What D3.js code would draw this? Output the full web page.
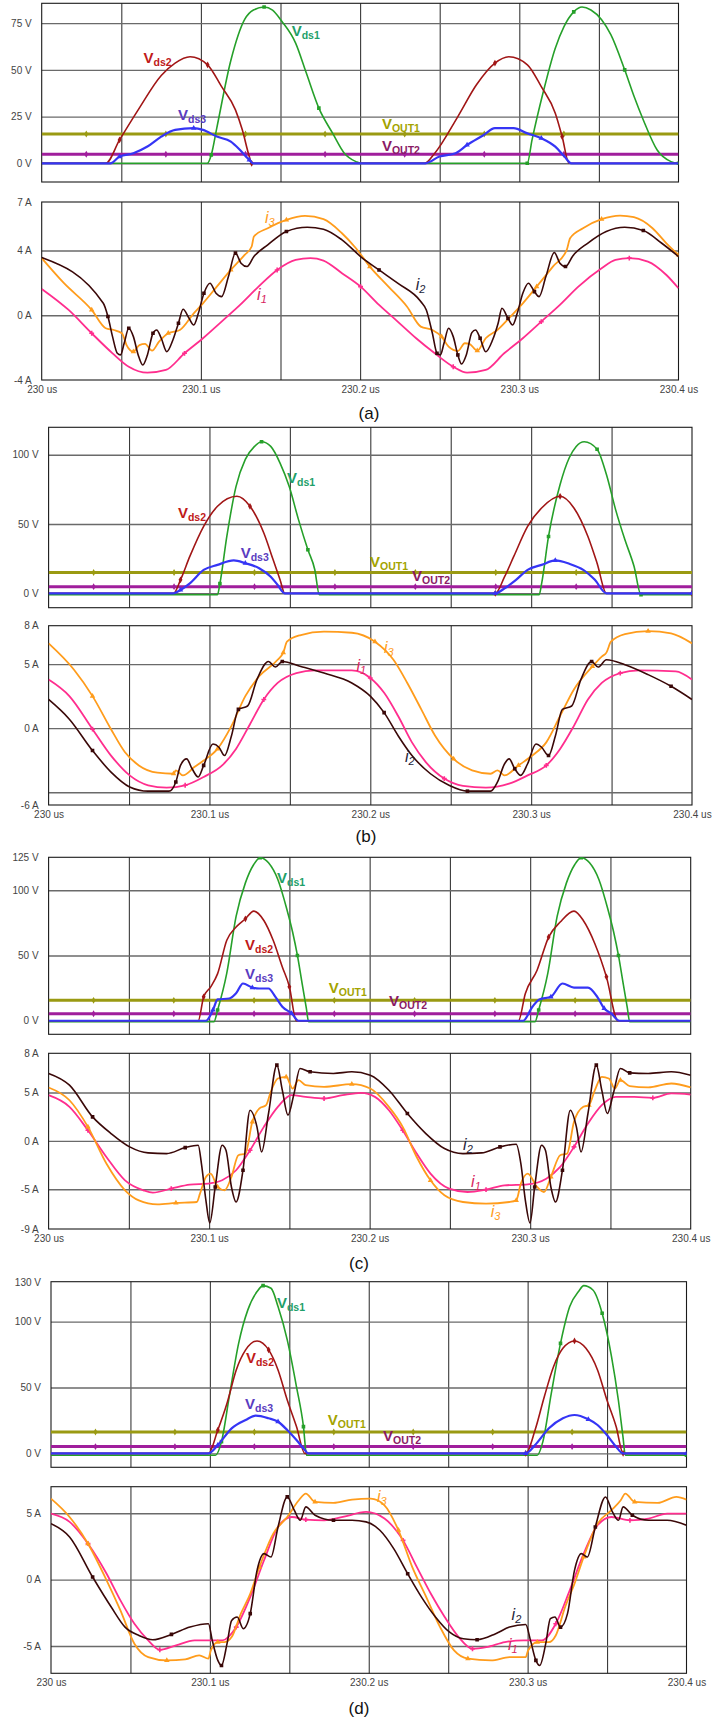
<!DOCTYPE html>
<html>
<head>
<meta charset="utf-8">
<script src="https://cdn.jsdelivr.net/npm/d3@7"></script>
<style>
  body { margin: 0; background: #fff; }
  svg { display: block; }
  text { font-family: "Liberation Sans", Arial, sans-serif; }
</style>
</head>
<body>
<svg id="chart" width="722" height="1718"></svg>
<script>
// time in ns after 230 us
var timeTicks = [0, 100, 200, 300, 400];
var timeLabels = ["230 us", "230.1 us", "230.2 us", "230.3 us", "230.4 us"];
var gridTimes = [50, 100, 150, 200, 250, 300, 350];

// ---- (a) ----
var vds1A = [[0,0],[104,0],[106.5,4.5],[110,19],[118.8,55],[127.5,77],[133,82],[139.7,83.6],[145,82],[150.8,76],[159.5,64.3],[166,48.8],[174.1,29.5],[182.8,16],[190.1,5.4],[197.4,0.9],[200.3,0],[305,0],[308,12.5],[315,38],[322.6,61.6],[328,73],[334.2,81],[339.4,83.6],[345,82],[351.7,76.8],[357.5,68.8],[366.2,50],[372,36],[377.9,23.2],[386.6,7.1],[395.3,0.9],[400,0]];
var vds2A = [[0,0],[40.2,0],[48.9,12.5],[60.6,28.6],[75.1,47],[83.8,53.6],[93.2,57],[104.2,52.7],[113,41],[121.7,28.6],[126,17.9],[130.4,3.6],[131.9,0],[240.5,0],[246.9,5.4],[261.4,25],[273.1,42],[284.7,53.6],[293.4,57],[305.1,52.7],[313.8,41],[322.6,26.8],[326.9,14.3],[331.3,0],[400,0]];
var vds3A = [[0,0],[43.1,0],[48.9,3.6],[57.6,5.4],[66.4,9],[75.1,14.3],[83.8,17.9],[95.5,18.8],[101.3,17.9],[110,14.3],[118.8,11.6],[124.6,7.1],[130.4,1.8],[132.7,0],[241,0],[249.8,3.6],[260,5.4],[267.2,9.8],[277.4,15],[284.7,18.8],[296.4,18.8],[305.1,16],[313.8,13.4],[322.6,8.9],[328.4,3.6],[332.7,0],[400,0]];
var voutA = [15.7, 4.8];
var i1A = [[0,1.63],[16.9,0.33],[31.4,-1.11],[44.5,-2.35],[54.7,-3.18],[66.4,-3.55],[78,-3.38],[89.7,-2.35],[101.3,-1.42],[113,-0.39],[124.6,0.64],[136.2,1.77],[147.9,2.8],[159.5,3.42],[168.8,3.53],[177,3.38],[188.6,2.6],[200.3,1.77],[211.9,0.64],[223.6,-0.39],[235.2,-1.42],[246.9,-2.35],[258.5,-3.18],[267.2,-3.55],[278.9,-3.38],[290.5,-2.35],[302.2,-1.42],[313.8,-0.39],[325.5,0.64],[337.1,1.77],[351.7,2.9],[360.4,3.42],[369.1,3.53],[380.8,3.32],[392.4,2.49],[400,1.67]];
var i2A = [[0,3.57],[38.7,0.74],[41.6,-0.08],[44.5,-1.32],[47.5,-2.35],[49.5,-2.45],[51.8,-1.73],[54.7,-0.8],[57.6,-1.32],[60.6,-2.45],[63.5,-3.07],[66.4,-2.45],[69.9,-1.11],[72.2,-0.91],[75.1,-1.42],[78.6,-2.25],[82.4,-1.53],[85.9,-0.49],[88.8,0.37],[92.6,-0.19],[95.5,-0.6],[98.4,0.12],[101.9,1.36],[105.7,1.98],[109.5,1.36],[113,1.15],[117.3,2.39],[121.7,3.84],[125.2,3.22],[129,3.01],[133.3,3.63],[142,4.35],[153.7,5.18],[166.8,5.44],[177,5.32],[188.6,4.66],[200.3,3.63],[211.9,2.8],[223.6,1.98],[238.1,0.85],[241.6,0.33],[245.4,-1.11],[248.3,-2.35],[250.4,-2.45],[252.7,-1.73],[255.6,-0.8],[258.5,-1.32],[261.4,-2.45],[263.7,-3.01],[266.7,-2.45],[270.2,-1.07],[272.5,-0.91],[275.4,-1.42],[278.9,-2.25],[283.2,-1.53],[286.7,-0.49],[289.1,0.43],[292.9,-0.19],[295.8,-0.6],[298.7,0.12],[302.2,1.36],[305.7,1.98],[309.5,1.46],[312.4,1.15],[316.7,2.39],[322,3.88],[325.5,3.22],[329,3.01],[333.6,3.67],[342.9,4.45],[354.6,5.18],[366.2,5.44],[377.9,5.24],[389.5,4.45],[400,3.63]];
var i3A = [[0,3.53],[14,1.98],[31.4,0.33],[40.2,-0.8],[45.4,-0.91],[50.4,-1.11],[53.3,-1.84],[57.6,-2.25],[61.4,-1.84],[64.9,-1.77],[69.3,-2.19],[73.7,-1.63],[79.5,-1.11],[86.8,-0.91],[95.5,0.12],[101.3,0.74],[110,1.77],[118.8,2.8],[127.5,3.73],[131.9,4.25],[133.3,4.87],[142,5.38],[153.7,5.9],[165.4,6.14],[177,5.94],[188.6,5.07],[197.4,4.14],[206.1,3.01],[217.8,1.77],[229.4,0.54],[238.1,-0.7],[245.4,-0.91],[251.2,-1.32],[255.6,-1.94],[261.4,-2.21],[265.8,-1.73],[268.7,-1.77],[273.6,-2.19],[278.9,-1.42],[286.2,-0.91],[293.4,-0.19],[302.2,0.74],[310.9,1.77],[321.1,3.01],[329.8,4.04],[331.9,4.76],[340,5.38],[351.7,5.94],[363.3,6.16],[372,6.06],[383.7,5.38],[392.4,4.45],[400,3.73]];

// ---- (b) ----
var vds1B = [[0,-1],[105,-1],[106.5,7],[110.8,41],[116.5,77],[122.3,96.6],[128,106],[132.4,109.4],[138.1,106],[143.9,94],[149.6,77],[155.4,53],[161.2,31.4],[165.5,17],[168.3,-1],[305,-1],[306.5,7],[310.8,41],[318,78.5],[323.7,97.8],[328,106],[333,109.4],[341,104],[346.8,85.7],[352.5,60.4],[358.3,38.6],[364,19.3],[368.3,-1],[400,-1]];
var vds2B = [[0,0],[77.7,0],[82,9.7],[87.8,26.6],[96.4,48.3],[105,62.8],[117.1,70],[125.2,62.8],[133.8,43.5],[139.6,24.2],[143.9,9.7],[146.8,0],[277.7,0],[283.5,12],[289.2,26.6],[297.8,48.3],[306.5,61.6],[318,70],[326.6,61.6],[335.3,41],[341,21.7],[346.8,0],[400,0]];
var vds3B = [[0,0],[77.7,0],[82,2.4],[87.8,7.2],[96.4,16.9],[105,20.5],[115.1,23.7],[122.3,21.7],[130.9,18.1],[138.1,12],[142.4,6],[146.8,0],[277.7,0],[283.5,3.6],[290.6,9.7],[297.8,16.9],[306.5,20.5],[315,23.7],[323.7,21.3],[332.4,16.9],[339.6,9.7],[346.8,0],[400,0]];
var voutB = [15, 4.8];
var i1B = [[0,3.79],[12.9,2.5],[27.3,-0.08],[38.8,-2.14],[50.4,-3.69],[61.9,-4.46],[73.4,-4.64],[84.9,-4.46],[96.4,-3.81],[107.9,-2.91],[116.5,-1.62],[125.2,0.31],[133.8,2.24],[142.4,3.53],[154,4.3],[165.5,4.51],[188.5,4.51],[200,3.92],[208.6,2.76],[217.3,0.95],[225.9,-1.11],[234.5,-2.65],[246,-3.94],[257.6,-4.51],[271.9,-4.64],[286.3,-4.33],[297.8,-3.69],[309.4,-2.91],[318,-1.62],[326.6,0.18],[335.3,2.24],[343.9,3.53],[355.4,4.3],[366.9,4.51],[389.9,4.43],[400,3.79]];
var i2B = [[0,2.24],[12.9,0.7],[27.3,-1.75],[38.8,-3.43],[50.4,-4.59],[61.9,-4.92],[74.8,-4.92],[79.1,-4.2],[82,-2.91],[85.8,-2.4],[89.2,-3.17],[93,-3.81],[96.4,-2.91],[102.2,-1.24],[105.9,-1.49],[109.4,-2.14],[113.7,-0.59],[118,1.47],[123.7,1.73],[129.5,3.79],[136.7,5.21],[141,4.77],[145.3,5.21],[156.8,4.82],[171.2,4.3],[188.5,3.53],[200,2.5],[208.6,1.21],[217.3,-0.59],[225.9,-2.14],[237.4,-3.56],[248.9,-4.46],[260.4,-4.92],[274.8,-4.92],[279.1,-4.2],[283.5,-2.78],[286.3,-2.4],[289.8,-3.17],[293.5,-3.69],[297.8,-2.78],[303,-1.24],[306.5,-1.49],[310.8,-2.14],[315.1,-0.59],[319.4,1.47],[325.2,1.73],[330.9,3.79],[337.6,5.21],[341.6,4.77],[346.8,5.34],[358.3,4.95],[372.7,4.18],[387,3.27],[400,2.24]];
var i3B = [[0,6.62],[15.8,4.56],[27.3,2.5],[38.8,-0.08],[47.5,-1.88],[56.1,-2.91],[67.6,-3.48],[77.7,-3.56],[79.1,-3.3],[83.5,-3.69],[90.6,-3.04],[96.4,-2.53],[105,-1.62],[113.7,0.18],[122.3,2.5],[130.9,4.05],[142.4,5.34],[145.9,5.9],[148.2,6.75],[156.8,7.27],[171.2,7.53],[188.5,7.45],[202.9,6.75],[214.4,5.34],[223,3.53],[231.7,1.47],[240.3,-0.59],[251.8,-2.4],[263.3,-3.3],[274.8,-3.56],[279.1,-3.3],[283.5,-3.69],[292.1,-2.91],[300.7,-2.14],[309.4,-1.11],[318,0.95],[326.6,3.02],[338.1,4.82],[343.9,5.59],[346.8,5.9],[349.6,6.75],[358.3,7.35],[372.7,7.58],[387,7.4],[400,6.62]];

// ---- (c) ----
var vds1C = [[0,-0.8],[103,-0.8],[105.3,8.2],[111,36.4],[116.8,80],[122.6,105.6],[127.8,119.7],[131.8,124.9],[137,121],[142.8,108.2],[148.5,85],[152,68],[155,50],[158,28],[160.5,10],[162,-0.8],[303,-0.8],[305.3,8.2],[311,36.4],[316.8,80],[322.6,105.6],[327.8,119.7],[331.8,124.9],[337,121],[342.8,108.2],[348.5,85],[352,68],[355,50],[358,28],[360.5,10],[362,-0.8],[400,-0.8]];
var vds2C = [[0,0],[93.2,0],[96.6,18.3],[101,26],[105.3,36.1],[111,61.6],[116.8,71.8],[122.6,78.1],[127.8,84],[134.1,76.8],[139.9,61.6],[145.6,41.2],[150,26],[154.3,0],[292.7,0],[297,20.9],[304.3,38.7],[311.5,64.1],[318.7,75.6],[327.3,84],[333.1,76.8],[340.3,59],[347.5,33.6],[354.7,0],[400,0]];
var vds3C = [[0,0],[98,0],[102.4,8.2],[105.3,16.3],[112.5,17],[116.8,21],[121.1,28.5],[126.9,25.4],[131.2,24.7],[137,24.7],[141.3,18.3],[145.6,10.7],[151.4,5.6],[155.7,0],[295.6,0],[301.4,10.7],[305.7,16.3],[312.9,18.3],[320.1,28.5],[327.3,25.4],[336,25.4],[341.8,18.3],[346.1,9.4],[350.4,5.6],[355.6,0],[400,0]];
var voutC = [15.6, 5.4];
var i1C = [[0,4.72],[13,3.52],[24.5,1.1],[36,-1.66],[47.6,-4.07],[59.1,-5.1],[64.9,-5.34],[76.4,-4.93],[88,-4.52],[99.5,-4.41],[108.1,-4.07],[116.8,-3.03],[125.5,-0.97],[134.1,1.45],[142.8,3.52],[151.4,4.72],[160.1,4.55],[171.6,4.38],[183.1,4.72],[194.7,4.97],[203.3,4.55],[212,3.17],[220.6,1.1],[229.3,-1.31],[237.9,-3.38],[249.5,-4.93],[261,-5.28],[272.5,-5.03],[284,-4.59],[298.5,-4.48],[310,-3.9],[318.7,-2.69],[327.3,-0.62],[336,1.79],[344.6,3.69],[353.3,4.55],[364.8,4.55],[376.4,4.45],[387.9,4.9],[400,4.79]];
var i2C = [[0,6.97],[13,5.76],[27.4,2.48],[38.9,0.76],[50.5,-0.62],[62,-1.24],[73.5,-1.31],[85.1,-0.69],[93.2,-0.45],[95.2,-2.34],[98,-6.14],[100.4,-8.48],[103.8,-4.76],[108.1,-0.45],[110.5,-0.97],[113.9,-4.76],[116.8,-6.31],[121.1,-3.03],[125.5,3.17],[129.8,1.45],[132.7,-1.14],[137,2.83],[142.2,7.83],[145.6,5.24],[149.1,2.66],[152.9,4.9],[156.6,7.48],[162.9,7.14],[177.4,6.97],[188.9,7.14],[200.4,6.79],[212,5.24],[223.5,2.83],[235,0.76],[246.6,-0.79],[258.1,-1.31],[269.7,-1.24],[281.2,-0.62],[291.3,-0.34],[294.2,-2.34],[297,-6.14],[299.9,-8.48],[302.8,-4.76],[307.1,-0.45],[309.5,-0.97],[312.9,-4.76],[315.8,-6.31],[320.1,-3.03],[325,3.17],[328.8,1.45],[331.7,-1.14],[336,2.83],[341.2,7.83],[344.6,5.24],[348.1,2.83],[351.8,4.9],[356.2,7.48],[362,7.03],[373.5,6.97],[387.9,7.14],[400,6.79]];
var i3C = [[0,5.52],[13,4.2],[24.5,1.45],[36,-2.34],[47.6,-5.1],[56.2,-6.14],[67.8,-6.55],[79.3,-6.41],[92.3,-6.31],[94.3,-5.45],[98,-3.72],[100.9,-3.38],[105.3,-4.76],[109.6,-5.1],[113.9,-3.72],[118.2,-1.48],[122.6,-1.31],[126.9,1.97],[131.2,3.34],[135.5,3.69],[138.4,5.07],[142.8,6.45],[148,6.62],[152,5.41],[155.7,6.28],[160.1,5.76],[171.6,5.59],[188.9,5.86],[200.4,5.41],[212,3.52],[220.6,1.45],[229.3,-1.66],[237.9,-4.07],[246.6,-5.62],[258.1,-6.31],[272.5,-6.48],[287,-6.31],[291.3,-6.14],[294.2,-4.41],[298.5,-3.38],[304.3,-4.76],[308.6,-5.28],[312.9,-3.72],[318.7,-1.48],[323,-1.31],[327.3,1.97],[333.1,3.52],[336.6,3.69],[340.3,5.24],[344.6,6.62],[349,6.45],[352.7,5.41],[356.2,6.28],[362,5.66],[373.5,5.52],[387.9,5.93],[400,5.52]];

// ---- (d) ----
var vds1D = [[0,-1.5],[103.5,-1.5],[107.3,8.9],[112.2,43],[118.1,83.5],[123.9,108.9],[129.7,122.8],[133.5,127.3],[138.5,125.3],[142.9,111.4],[148.7,86.1],[154.5,50.6],[158.9,20.3],[160.9,-1.5],[306,-1.5],[309.6,8.9],[314.9,45.6],[320.7,83.5],[326.5,111.4],[332.4,123.5],[335.3,127.3],[341.1,124],[346.9,106.3],[352.8,73.4],[357.1,40.5],[360,12.7],[361.5,-1.5],[400,-1.5]];
var vds2D = [[0,0],[99.1,0],[105,17.7],[110.8,38],[116.6,63.3],[122.5,78.5],[129.7,85.3],[137,78.5],[142.9,63.3],[148.7,40.5],[154.5,20.3],[159.8,0],[298.8,0],[304.7,17.7],[310.5,43],[316.3,65.8],[322.2,79.7],[329.5,85.3],[336.7,79.7],[344,63.3],[349.9,40.5],[355.7,20.3],[360.1,0],[400,0]];
var vds3D = [[0,0],[99.1,0],[105,6.3],[113.7,19],[122.5,25.3],[128.9,28.6],[137,26.6],[142.9,24],[148.7,17.7],[154.5,10.1],[159.8,2.5],[161.8,0],[298.8,0],[304.7,6.3],[313.4,19],[322.2,26.6],[329.5,29.1],[338.2,25.8],[344,21.5],[349.9,13.9],[355.7,5],[360.1,0],[400,0]];
var voutD = [16.2, 5.1];
var i1D = [[0,4.97],[11.7,4.35],[23.3,2.71],[35,0.45],[43.7,-1.56],[52.5,-3.32],[61.2,-4.57],[68.5,-5.28],[78.7,-4.95],[90.4,-4.57],[99.1,-4.57],[107.9,-4.57],[116.6,-3.57],[125.4,-1.31],[134.1,1.46],[142.9,3.97],[151.6,4.72],[160.4,4.52],[172,4.47],[183.7,4.72],[198.3,5.1],[209.9,4.6],[221.6,2.96],[230.3,0.95],[239.1,-1.06],[247.8,-2.81],[256.6,-4.32],[265.3,-5.2],[274,-5.08],[285.7,-4.7],[297.4,-4.57],[309,-4.57],[317.7,-3.32],[326.5,-0.8],[335.3,1.96],[344,4.1],[352.8,4.72],[364.4,4.47],[376.1,4.6],[387.8,4.97],[400,4.97]];
var i2D = [[0,4.22],[11.7,3.22],[26.2,0.2],[37.9,-2.06],[46.6,-3.57],[55.4,-4.2],[64.1,-4.52],[75.8,-4.12],[87.5,-3.57],[99.1,-3.32],[101.5,-4.57],[105,-6.08],[107.3,-6.46],[110.8,-4.82],[113.7,-3.07],[117.2,-2.81],[121,-3.69],[125.4,-2.56],[129.7,0.7],[134.1,1.96],[138.5,1.71],[142.9,3.97],[148.7,6.23],[153.1,5.23],[156.9,4.47],[160.4,5.48],[166.2,4.85],[177.8,4.47],[189.5,4.47],[198.3,4.35],[207,3.72],[215.7,2.34],[224.5,0.45],[233.2,-1.31],[242,-2.81],[250.7,-3.94],[259.5,-4.45],[268.2,-4.52],[279.9,-4.07],[288.6,-3.57],[298.8,-3.37],[301.8,-4.57],[305.2,-6.08],[307.6,-6.46],[311.4,-4.82],[314.3,-2.94],[317.2,-2.81],[320.7,-3.57],[325.1,-2.56],[329.5,0.7],[333.8,1.96],[337.6,1.71],[342.6,3.97],[349,6.23],[353.4,5.1],[357.2,4.47],[360.1,5.48],[365.9,4.85],[376.1,4.47],[387.8,4.47],[400,4.1]];
var i3D = [[0,6.1],[11.7,4.72],[23.3,2.71],[35,-0.05],[43.7,-2.31],[52.5,-4.82],[61.2,-5.83],[72.9,-6.08],[84.5,-6],[93.3,-5.7],[99.1,-5.95],[100.6,-5.33],[105,-4.7],[109.3,-4.7],[113.7,-4.32],[119.5,-2.56],[125.4,-1.06],[131.2,0.95],[139.9,3.47],[148.7,4.72],[156,5.98],[160.4,6.48],[166.2,5.85],[177.8,5.78],[189.5,6.03],[201.2,6.1],[209.9,5.6],[218.7,3.72],[227.4,0.95],[236.2,-1.31],[244.9,-3.57],[253.7,-5.33],[262.4,-5.95],[277,-6.08],[288.6,-5.83],[298.8,-5.83],[300.3,-5.33],[306.1,-4.7],[313.4,-4.7],[317.7,-4.2],[323.6,-2.06],[329.5,-0.3],[335.3,1.71],[344,4.22],[352.8,5.23],[358.6,5.98],[361.5,6.48],[367.4,5.85],[381.9,5.78],[393.6,6.23],[400,6.03]];

// axis ticks per panel
var voltTicksA = [75, 50, 25, 0], voltLabelsA = ["75 V", "50 V", "25 V", "0 V"];
var currTicksA = [7, 4, 0, -4], currLabelsA = ["7 A", "4 A", "0 A", "-4 A"];
var voltTicksB = [100, 50, 0], voltLabelsB = ["100 V", "50 V", "0 V"];
var currTicksB = [8, 5, 0, -6], currLabelsB = ["8 A", "5 A", "0 A", "-6 A"];
var voltTicksC = [125, 100, 50, 0], voltLabelsC = ["125 V", "100 V", "50 V", "0 V"];
var currTicksC = [9, 5, 0, -5, -9.1], currLabelsC = ["8 A", "5 A", "0 A", "-5 A", "-9 A"];
var voltTicksD = [130, 100, 50, 0], voltLabelsD = ["130 V", "100 V", "50 V", "0 V"];
var currTicksD = [5, 0, -5], currLabelsD = ["5 A", "0 A", "-5 A"];

var col = {
  vds1: "#26a02a", vds2: "#a11616", vds3: "#3535f5", vout1: "#9a9a12", vout2: "#a01e9c",
  i1: "#ff2e8e", i2: "#3a0808", i3: "#ff9c1c"
};
var labCol = {
  vds1: "#1f9f6a", vds2: "#c01a1a", vds3: "#5a3cc0", vout1: "#a3a300", vout2: "#8a1a66",
  i1: "#d8245e", i2: "#1e1e3a", i3: "#ff9c1c"
};

var svg = d3.select("#chart");
var clipN = 0;

function drawPlot(p) {
  var x = d3.scaleLinear().domain([0, 400]).range([p.left, p.right]);
  var y = d3.scaleLinear().domain(p.domain).range([p.bottom, p.top]);
  var w = p.right - p.left, h = p.bottom - p.top;
  var g = svg.append("g");
  var id = "clip" + (clipN++);
  g.append("clipPath").attr("id", id).append("rect")
    .attr("x", p.left).attr("y", p.top).attr("width", w).attr("height", h);

  // grid lines
  var vg = g.append("g").attr("transform", "translate(0," + p.bottom + ")")
    .call(d3.axisBottom(x).tickValues(gridTimes).tickSize(-h).tickFormat(""));
  vg.select(".domain").remove();
  vg.selectAll("line").attr("stroke", "#3a3a3a").attr("stroke-width", 1.1);

  var hg = g.append("g").attr("transform", "translate(" + p.left + ",0)")
    .call(d3.axisLeft(y).tickValues(p.grid).tickSize(-w).tickFormat(""));
  hg.select(".domain").remove();
  hg.selectAll("line").attr("stroke", "#6a6a6a").attr("stroke-width", 1.4);

  // y labels
  var yl = g.append("g").attr("transform", "translate(" + p.left + ",0)")
    .call(d3.axisLeft(y).tickValues(p.ticks).tickSize(0).tickPadding(10)
      .tickFormat(function(d, i) { return p.tickLabels[i]; }));
  yl.select(".domain").remove();
  yl.selectAll("text").attr("font-size", 10).attr("fill", "#444")
    .attr("font-family", "Liberation Sans, Arial, sans-serif");

  // frame
  g.append("rect").attr("x", p.left).attr("y", p.top).attr("width", w).attr("height", h)
    .attr("fill", "none").attr("stroke", "#1a1a1a").attr("stroke-width", 1.1);

  var plot = g.append("g").attr("clip-path", "url(#" + id + ")");
  var line = d3.line().x(function(d) { return x(d[0]); }).y(function(d) { return y(d[1]); })
    .curve(d3.curveMonotoneX);

  (p.consts || []).forEach(function(c) {
    plot.append("path").datum([[0, c.value], [400, c.value]])
      .attr("d", line).attr("fill", "none").attr("stroke", c.color).attr("stroke-width", 3);
    plot.selectAll(null).data(gridTimes.map(function(t) { return [t - 22, c.value]; }))
      .enter().append("path")
      .attr("transform", function(d) { return "translate(" + x(d[0]) + "," + y(d[1]) + ")"; })
      .attr("d", d3.symbol().type(d3.symbolDiamond).size(14))
      .attr("fill", c.color);
  });

  p.series.forEach(function(s) {
    plot.append("path").datum(s.data)
      .attr("d", line).attr("fill", "none").attr("stroke", s.color)
      .attr("stroke-width", s.width).attr("stroke-linejoin", "round");
    plot.selectAll(null).data(s.data.filter(function(d, i) { return i % 5 === 2; }))
      .enter().append("path")
      .attr("transform", function(d) { return "translate(" + x(d[0]) + "," + y(d[1]) + ")"; })
      .attr("d", d3.symbol().type(s.marker).size(13))
      .attr("fill", s.color);
  });

  (p.labels || []).forEach(function(l) {
    var t = g.append("text").attr("x", x(l.t)).attr("y", y(l.v))
      .attr("fill", l.color).attr("font-style", l.italic ? "italic" : "normal")
      .attr("font-weight", l.italic ? "normal" : "bold");
    t.append("tspan").attr("font-size", l.italic ? 16 : 15).text(l.main);
    t.append("tspan").attr("font-size", l.italic ? 11 : 10.5).attr("dy", 3).text(l.sub);
  });

  if (p.timeAxis) {
    var xa = g.append("g").attr("transform", "translate(0," + p.bottom + ")")
      .call(d3.axisBottom(x).tickValues(timeTicks).tickSize(0).tickPadding(6)
        .tickFormat(function(d, i) { return timeLabels[i]; }));
    xa.select(".domain").remove();
    xa.selectAll("text").attr("font-size", 10).attr("fill", "#444")
      .attr("font-family", "Liberation Sans, Arial, sans-serif");
  }
}

function voltSeries(v1, v2, v3) {
  return [
    { data: v1, color: col.vds1, width: 1.6, marker: d3.symbolSquare },
    { data: v2, color: col.vds2, width: 1.6, marker: d3.symbolDiamond },
    { data: v3, color: col.vds3, width: 2.2, marker: d3.symbolTriangle }
  ];
}
function currSeries(c1, c2, c3) {
  return [
    { data: c1, color: col.i1, width: 1.8, marker: d3.symbolCross },
    { data: c3, color: col.i3, width: 1.8, marker: d3.symbolTriangle },
    { data: c2, color: col.i2, width: 1.6, marker: d3.symbolSquare }
  ];
}
function consts(vo) {
  return [{ value: vo[0], color: col.vout1 }, { value: vo[1], color: col.vout2 }];
}
function vLabels(pos) {
  return [
    { t: pos[0][0], v: pos[0][1], main: "V", sub: "ds1", color: labCol.vds1 },
    { t: pos[1][0], v: pos[1][1], main: "V", sub: "ds2", color: labCol.vds2 },
    { t: pos[2][0], v: pos[2][1], main: "V", sub: "ds3", color: labCol.vds3 },
    { t: pos[3][0], v: pos[3][1], main: "V", sub: "OUT1", color: labCol.vout1 },
    { t: pos[4][0], v: pos[4][1], main: "V", sub: "OUT2", color: labCol.vout2 }
  ];
}
function iLabels(pos) {
  return [
    { t: pos[0][0], v: pos[0][1], main: "i", sub: "1", color: labCol.i1, italic: true },
    { t: pos[1][0], v: pos[1][1], main: "i", sub: "2", color: labCol.i2, italic: true },
    { t: pos[2][0], v: pos[2][1], main: "i", sub: "3", color: labCol.i3, italic: true }
  ];
}

// label anchors (time ns, value)
var vLabA = [[157, 68], [64, 53.5], [85.6, 23], [213.7, 18.5], [213.7, 6.8]];
var iLabA = [[135.3, 0.95], [234.9, 1.56], [140.3, 5.71]];
var vLabB = [[148.2, 79.6], [80.4, 54.3], [119.4, 25.5], [199.8, 18.8], [225.9, 8.8]];
var iLabB = [[191.4, 4.43], [221.6, -2.63], [208.5, 5.87]];
var vLabC = [[142.3, 105.5], [122.4, 54.2], [122.4, 32], [174.5, 21.6], [212.1, 11]];
var iLabC = [[263.2, -4.76], [258.2, -0.96], [275.4, -7.86]];
var vLabD = [[142.2, 110.3], [122.7, 68.6], [122.1, 33.5], [174.2, 21.8], [209, 9.2]];
var iLabD = [[287.6, -5.33], [289.9, -3.07], [205.2, 5.85]];

// (a)
drawPlot({ left: 41.7, right: 678.5, top: 3.3, bottom: 182, domain: [-10, 85.6],
  grid: voltTicksA, ticks: voltTicksA, tickLabels: voltLabelsA,
  series: voltSeries(vds1A, vds2A, vds3A), consts: consts(voutA), labels: vLabels(vLabA) });
drawPlot({ left: 41.7, right: 678.5, top: 202, bottom: 380, domain: [-4, 7],
  grid: [4, 0], ticks: currTicksA, tickLabels: currLabelsA,
  series: currSeries(i1A, i2A, i3A), labels: iLabels(iLabA), timeAxis: true });
// (b)
drawPlot({ left: 48.6, right: 692, top: 427.3, bottom: 607.7, domain: [-10.4, 119.8],
  grid: voltTicksB, ticks: voltTicksB, tickLabels: voltLabelsB,
  series: voltSeries(vds1B, vds2B, vds3B), consts: consts(voutB), labels: vLabels(vLabB) });
drawPlot({ left: 48.6, right: 692, top: 625.7, bottom: 805, domain: [-6, 8],
  grid: [5, 0, -5], ticks: currTicksB, tickLabels: currLabelsB,
  series: currSeries(i1B, i2B, i3B), labels: iLabels(iLabB), timeAxis: true });
// (c)
drawPlot({ left: 48.6, right: 690.7, top: 857.3, bottom: 1034.3, domain: [-10.4, 125.2],
  grid: [100, 50, 0], ticks: voltTicksC, tickLabels: voltLabelsC,
  series: voltSeries(vds1C, vds2C, vds3C), consts: consts(voutC), labels: vLabels(vLabC) });
drawPlot({ left: 48.6, right: 690.7, top: 1053.3, bottom: 1229, domain: [-9.1, 9.05],
  grid: [5, 0, -5], ticks: currTicksC, tickLabels: currLabelsC,
  series: currSeries(i1C, i2C, i3C), labels: iLabels(iLabC), timeAxis: true });
// (d)
drawPlot({ left: 51, right: 686.5, top: 1281.7, bottom: 1467.3, domain: [-10.6, 130.3],
  grid: [100, 50, 0], ticks: voltTicksD, tickLabels: voltLabelsD,
  series: voltSeries(vds1D, vds2D, vds3D), consts: consts(voutD), labels: vLabels(vLabD) });
drawPlot({ left: 51, right: 686.5, top: 1486.7, bottom: 1673.3, domain: [-7.05, 7],
  grid: [5, 0, -5], ticks: currTicksD, tickLabels: currLabelsD,
  series: currSeries(i1D, i2D, i3D), labels: iLabels(iLabD), timeAxis: true });

// captions
var captions = [["(a)", 369, 419], ["(b)", 366, 842], ["(c)", 359, 1269], ["(d)", 359, 1714]];
svg.selectAll(".cap").data(captions).enter().append("text")
  .attr("x", function(d) { return d[1]; }).attr("y", function(d) { return d[2]; })
  .attr("text-anchor", "middle").attr("font-size", 17)
  .attr("font-family", "Liberation Serif, Times New Roman, serif").attr("fill", "#111")
  .text(function(d) { return d[0]; });
</script>
</body>
</html>
